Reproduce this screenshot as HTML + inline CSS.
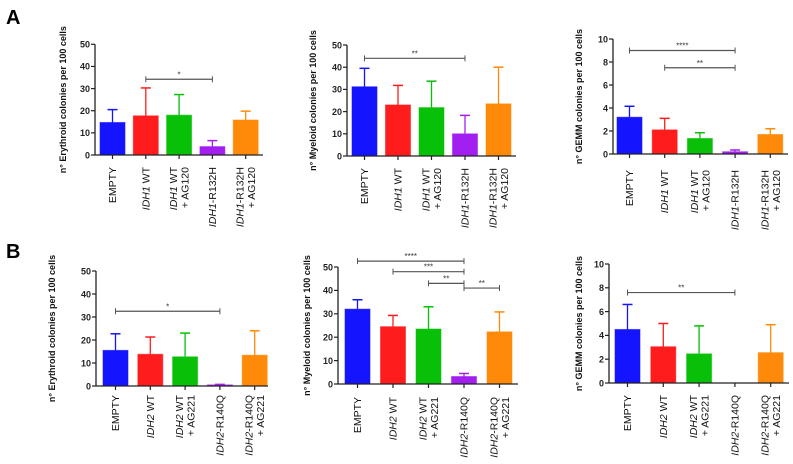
<!DOCTYPE html>
<html><head><meta charset="utf-8"><style>
body{margin:0;background:#fff;}
svg{display:block;font-family:"Liberation Sans",Arial,sans-serif;}
</style></head><body>
<svg id="fig" width="793" height="464" viewBox="0 0 793 464">
<text x="6" y="24" font-size="20" font-weight="bold">A</text>
<text x="6" y="258" font-size="20" font-weight="bold">B</text>
</svg>
<script>
const colors=['#1414ff','#ff1c1c','#08c008','#a21ff0','#ff8a0a'];
const a1Means=[14.7,17.7,18,3.8,15.8];
const a1Tops=[20.5,30.3,27.3,6.5,19.8];
const a2Means=[31.2,23,21.8,10,23.5];
const a2Tops=[39.5,31.8,33.7,18.3,40];
const a3Means=[3.2,2.1,1.35,0.2,1.7];
const a3Tops=[4.15,3.1,1.85,0.35,2.2];
const b1Means=[15.5,13.8,12.7,0.5,13.4];
const b1Tops=[22.7,21.3,23,0.7,24];
const b2Means=[32,24.5,23.5,3.2,22.3];
const b2Tops=[36,29.3,33,4.5,30.8];
const b3Means=[4.5,3.05,2.45,0,2.55];
const b3Tops=[6.6,5,4.8,0,4.9];
const ticks50=[0,10,20,30,40,50];
const ticks10=[0,2,4,6,8,10];
const a1Sig=[[1,3,34.2,'*']];
const a2Sig=[[0,3,44,'**']];
const a3Sig=[[0,3,9.0,'****'],[1,3,7.5,'**']];
const b1Sig=[[0,3,32.5,'*']];
const b2Sig=[[0,3,52.5,'****'],[1,3,48,'***'],[2,3,43,'**'],[3,4,41,'**']];
const b3Sig=[[0,3,7.6,'**']];
const labelsA=[['EMPTY'],[['IDH1',' WT']],[['IDH1',' WT'],'+ AG120'],[['IDH1','-R132H']],[['IDH1','-R132H'],'+ AG120']];
const labelsB=[['EMPTY'],[['IDH2',' WT']],[['IDH2',' WT'],'+ AG221'],[['IDH2','-R140Q']],[['IDH2','-R140Q'],'+ AG221']];

const NS='http://www.w3.org/2000/svg';
const svg=document.getElementById('fig');
function mk(tag,attrs,parent){const e=document.createElementNS(NS,tag);for(const k in attrs)e.setAttribute(k,attrs[k]);(parent||svg).appendChild(e);return e;}

function panel(p){
  const g=mk('g',{});
  
  
  const max=p.ticks[p.ticks.length-1];
  const yS=v=>p.y0-(v/max)*(p.y0-p.yTop);
  const xC=i=>p.b0+12.5+i*p.step;
  p.means.forEach((m,i)=>{
    const x=xC(i)-12.5, c=colors[i];
    const top=yS(p.tops[i]);
    if(p.tops[i]>m){
      const eb=mk('line',{x1:xC(i),x2:xC(i),y1:yS(m),y2:top,stroke:c,'stroke-width':1.3},g);
      
      
      const cap=mk('line',{x1:xC(i)-5,x2:xC(i)+5,y1:top,y2:top,stroke:c,'stroke-width':1.5},g);
      
      
    }
    const h=p.y0-yS(m);
    if(h>0){
      const r=mk('rect',{x:x,y:yS(m),width:25,height:h,fill:c,stroke:c,'stroke-opacity':0.55,'stroke-width':1},g);
      
      
    }
  });
  const ya=mk('line',{x1:p.ax,x2:p.ax,y1:p.yTop,y2:p.y0,stroke:'#222','stroke-width':1.3},g);
  
  
  const xa=mk('line',{x1:p.ax,x2:p.axEnd,y1:p.y0,y2:p.y0,stroke:'#222','stroke-width':1.3},g);
  
  
  p.ticks.forEach(t=>{
    mk('line',{x1:p.ax-4,x2:p.ax,y1:yS(t),y2:yS(t),stroke:'#222','stroke-width':1.2},g);
    const tl=mk('text',{x:p.ax-5,y:yS(t)+3.3,'font-size':9,'font-weight':'bold','text-anchor':'end',fill:'#222'},g);
    tl.textContent=t;
    
    
  });
  p.means.forEach((m,i)=>{mk('line',{x1:xC(i),x2:xC(i),y1:p.y0,y2:p.y0+4,stroke:'#222','stroke-width':1.2},g);});
  const yc=(p.yTop+p.y0)/2;
  const yt=mk('text',{x:p.titleX,y:yc,'font-size':9,'font-weight':'bold','text-anchor':'middle',transform:`rotate(-90 ${p.titleX} ${yc})`,fill:'#111'},g);
  yt.textContent=p.title;
  
  
  p.labels.forEach((lab,i)=>{
    const lines=lab.length;
    lab.forEach((ln,j)=>{
      const lx=xC(i)+(lines===1?3.5:(j===0?-2:9.5));
      const ly=p.y0+p.lo;
      const t=mk('text',{x:lx,y:ly,'font-size':10.5,'text-anchor':'end',transform:`rotate(-90 ${lx} ${ly})`,fill:'#111'},g);
      
      
      if(typeof ln==='string'){t.textContent=ln;}
      else{const a=mk('tspan',{'font-style':'italic'},t);a.textContent=ln[0];const b=mk('tspan',{},t);b.textContent=ln[1];}
    });
  });
  p.sig.forEach(s=>{
    const y=yS(s[2]),x1=xC(s[0]),x2=xC(s[1]);
    const l=mk('line',{x1:x1,x2:x2,y1:y,y2:y,stroke:'#555','stroke-width':1.2},g);
    
    
    mk('line',{x1:x1,x2:x1,y1:y-3,y2:y+3,stroke:'#555','stroke-width':1},g);
    mk('line',{x1:x2,x2:x2,y1:y-3,y2:y+3,stroke:'#555','stroke-width':1},g);
    const st=mk('text',{x:(x1+x2)/2,y:y-2,'font-size':8,'text-anchor':'middle',fill:'#333'},g);
    st.textContent=s[3];
    
    
  });
}
panel({name:'panel-a-erythroid',means:a1Means,tops:a1Tops,ticks:ticks50,sig:a1Sig,labels:labelsA,ax:95,axEnd:263,y0:155,yTop:44.3,b0:100,step:33.3,titleX:66,title:'n° Erythroid colonies per 100 cells',lo:12});
panel({name:'panel-a-myeloid',means:a2Means,tops:a2Tops,ticks:ticks50,sig:a2Sig,labels:labelsA,ax:347,axEnd:516,y0:156,yTop:45,b0:352,step:33.5,titleX:316,title:'n° Myeloid colonies per 100 cells',lo:12});
panel({name:'panel-a-gemm',means:a3Means,tops:a3Tops,ticks:ticks10,sig:a3Sig,labels:labelsA,ax:613,axEnd:788,y0:154,yTop:39,b0:617,step:35.2,titleX:582,title:'n° GEMM colonies per 100 cells',lo:16});
panel({name:'panel-b-erythroid',means:b1Means,tops:b1Tops,ticks:ticks50,sig:b1Sig,labels:labelsB,ax:96,axEnd:268,y0:386,yTop:271,b0:103,step:34.8,titleX:55,title:'n° Erythroid colonies per 100 cells',lo:9});
panel({name:'panel-b-myeloid',means:b2Means,tops:b2Tops,ticks:ticks50,sig:b2Sig,labels:labelsB,ax:338,axEnd:518,y0:384,yTop:267,b0:345,step:35.5,titleX:310,title:'n° Myeloid colonies per 100 cells',lo:13});
panel({name:'panel-b-gemm',means:b3Means,tops:b3Tops,ticks:ticks10,sig:b3Sig,labels:labelsB,ax:609,axEnd:789,y0:383,yTop:264,b0:615,step:35.8,titleX:582,title:'n° GEMM colonies per 100 cells',lo:12});
</script>
</body></html>
